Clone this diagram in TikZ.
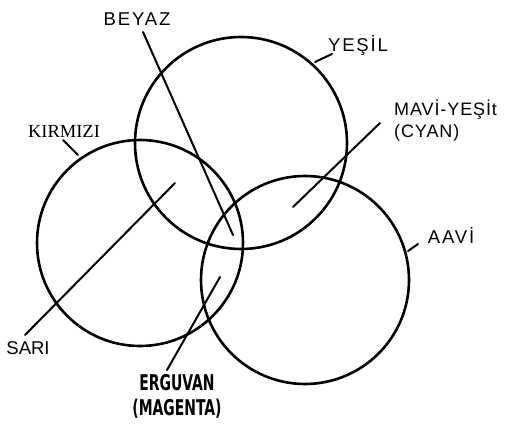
\documentclass[tikz,border=0pt]{standalone}
\usepackage{fontspec}
\usepackage{graphicx}
\setmainfont{Liberation Sans}
\newfontfamily\labelfont[LetterSpace=10]{Liberation Sans}
\newfontfamily\cyanfont[LetterSpace=5]{Liberation Sans}
\newfontfamily\kfont{Liberation Serif}
\newfontfamily\handfont{DejaVu Sans Condensed Bold}
\usetikzlibrary{positioning}

\begin{document}
\begin{tikzpicture}[
        x=1pt, y=-1pt,
        ring/.style={line width=2.6pt},
        leader/.style={line width=2pt, line cap=round},
        colname/.style={
          inner sep=0pt,
          font=\labelfont\fontsize{18.5}{22}\selectfont
        }
      ]
        \useasboundingbox (0,0) rectangle (508,430);

        % the three light circles
        \coordinate (green) at (241,143);
        \coordinate (red) at (140,243);
        \coordinate (blue) at (305,280);
        \draw[ring] (green) circle[radius=106];
        \draw[ring] (red) circle[radius=103];
        \draw[ring] (blue) circle[radius=104];

        % labels
        \node[colname] (beyaz) at (137,19) {BEYAZ};
        \node[colname] (yesil) at (358,45) {YEŞİL};
        \node[inner sep=0pt, anchor=north west, align=left,
              font=\cyanfont\fontsize{18}{22}\selectfont] (cyan) at (394,100) {MAVİ-YEŞİt\\(CYAN)};
        \node[inner sep=0pt, font=\kfont\fontsize{18.5}{22}\selectfont] (kirmizi) at (64,131) {KIRMIZI};
        \node[inner sep=0pt, font=\fontsize{18.5}{22}\selectfont] (sari) at (28,348) {SARI};
        \node[colname] (aavi) at (451,235) {AAVİ};
        \node[inner sep=0pt, font=\handfont\fontsize{15.5}{22}\selectfont] (erguvan) at (177,397)
          {\scalebox{1}[1.4]{\begin{tabular}{@{}c@{}}ERGUVAN\\[-4pt](MAGENTA)\end{tabular}}};

        % leader ends
        \coordinate (beyaz-a) at (143,32);
        \coordinate (beyaz-b) at (233,235);
        \coordinate (yesil-a) at (332,54);
        \coordinate (yesil-b) at (315,62);
        \coordinate (cyan-a) at (380,123);
        \coordinate (cyan-b) at (293,207);
        \coordinate (kirmizi-a) at (63,140);
        \coordinate (kirmizi-b) at (78,155);
        \coordinate (sari-a) at (25,335);
        \coordinate (sari-b) at (175,183);
        \coordinate (aavi-a) at (418,244);
        \coordinate (aavi-b) at (408,251);
        \coordinate (erguvan-a) at (167,370);
        \coordinate (erguvan-b) at (220,277);

        \draw[leader] (beyaz-a) -- (beyaz-b);
        \draw[leader] (yesil-a) -- (yesil-b);
        \draw[leader] (cyan-a) -- (cyan-b);
        \draw[leader] (kirmizi-a) -- (kirmizi-b);
        \draw[leader] (sari-a) -- (sari-b);
        \draw[leader] (aavi-a) -- (aavi-b);
        \draw[leader] (erguvan-a) -- (erguvan-b);

      \end{tikzpicture}
\end{document}
